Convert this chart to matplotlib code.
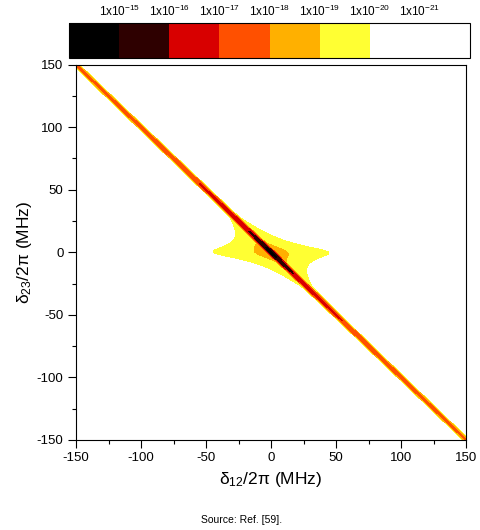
import numpy as np
import matplotlib
matplotlib.use('Agg')
import matplotlib.pyplot as plt

# contour levels (powers of ten) and fill colours, low -> high
level_exp = [-22, -21, -20, -19, -18, -17, -16, -15, -13]
fill_colors = ['#ffffff', '#ffffff', '#ffff33', '#ffb000', '#ff5000',
               '#d80000', '#2e0000', '#000000']
cbar_exp = [-21, -20, -19, -18, -17, -16, -15]

ticks = [-150, -100, -50, 0, 50, 100, 150]
minor_ticks = [-125, -75, -25, 25, 75, 125]

# model parameters (MHz)
line_peak = 2.0e-15    # two-photon line peak at the origin
line_decay = 3.9       # width of the decay along the diagonal
line_width = 1.2       # width across the diagonal
star_amp = 5.0e-16     # central cross-shaped feature
star_u = 7.0
star_v = 5.0

plt.rcParams['font.family'] = ['Liberation Sans', 'DejaVu Sans']
plt.rcParams['mathtext.default'] = 'regular'
plt.rcParams['axes.unicode_minus'] = False

d = np.linspace(-150, 150, 2001)
d12, d23 = np.meshgrid(d, d)
u = d12 + d23
v = d23
signal = (line_peak * line_decay**2 / (v**2 + line_decay**2) * np.exp(-(u / line_width)**2)
          + star_amp / ((u**2 + star_u**2) * (v**2 + star_v**2)))
logsig = np.clip(np.log10(signal), -21.9, -13.1)

fig = plt.figure(figsize=(4.81, 5.30), dpi=100)
ax = fig.add_axes([0.158, 0.170, 0.811, 0.708])
cs = ax.contourf(d12, d23, logsig, levels=level_exp, colors=fill_colors)

ax.set_xlim(-150, 150)
ax.set_ylim(-150, 150)
ax.set_xticks(ticks)
ax.set_yticks(ticks)
ax.set_xticks(minor_ticks, minor=True)
ax.set_yticks(minor_ticks, minor=True)
ax.tick_params(which='major', direction='out', length=5.5, width=0.8, labelsize=9.5)
ax.tick_params(which='minor', direction='out', length=3, width=0.8)
ax.set_xlabel('δ$_{12}$/2π (MHz)', fontsize=12.5, labelpad=4)
ax.set_ylabel('δ$_{23}$/2π (MHz)', fontsize=12.5, labelpad=2)

cax = fig.add_axes([0.1435, 0.8906, 0.834, 0.066])
cb = fig.colorbar(cs, cax=cax, orientation='horizontal', spacing='uniform')
cax.invert_xaxis()
cb.set_ticks(cbar_exp)
cb.set_ticklabels(['1x10$^{%d}$' % e for e in cbar_exp])
cax.xaxis.set_ticks_position('top')
cax.tick_params(length=0, labelsize=8.5, pad=3)
cb.outline.set_linewidth(0.8)

fig.text(0.503, 0.018, 'Source: Ref. [59].', ha='center', va='center', fontsize=7.5)

fig.savefig('out.png', dpi=100)
